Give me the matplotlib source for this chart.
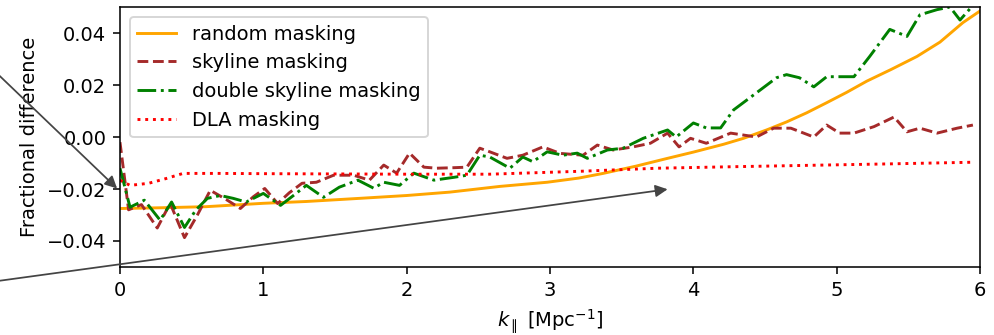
import numpy as np
import matplotlib.pyplot as plt

# fractional difference of the 1D flux power spectrum for each masking scheme
k_random = [0.0, 0.3, 0.6, 1.0, 1.3, 1.67, 2.0, 2.3, 2.65, 2.98, 3.2, 3.37, 3.6, 3.82, 4.0,
            4.21, 4.35, 4.51, 4.65, 4.79, 4.93, 5.07, 5.21, 5.38, 5.56, 5.72, 5.88, 6.0]
frac_random = [-0.0275, -0.0272, -0.0268, -0.0255, -0.0248, -0.0236, -0.0225, -0.0212, -0.0190,
               -0.0174, -0.0158, -0.0140, -0.0112, -0.0082, -0.0058, -0.0028, -0.0005, 0.0027,
               0.0058, 0.0093, 0.0132, 0.0172, 0.0215, 0.0260, 0.0310, 0.0365, 0.0440, 0.0485]

k_skyline = [0.0, 0.06, 0.15, 0.26, 0.35, 0.45, 0.54, 0.63, 0.74, 0.84, 0.93, 1.01, 1.10, 1.18,
             1.27, 1.37, 1.49, 1.63, 1.74, 1.84, 1.93, 2.02, 2.12, 2.21, 2.33, 2.42, 2.51, 2.58,
             2.70, 2.81, 2.95, 3.07, 3.23, 3.33, 3.44, 3.58, 3.70, 3.82, 3.90, 3.98, 4.09, 4.26,
             4.44, 4.56, 4.68, 4.84, 4.93, 5.02, 5.12, 5.26, 5.40, 5.49, 5.58, 5.70, 5.84, 5.95]
frac_skyline = [-0.0020, -0.0280, -0.0260, -0.0350, -0.0255, -0.0387, -0.0300, -0.0205, -0.0240,
                -0.0275, -0.0230, -0.0198, -0.0256, -0.0215, -0.0178, -0.0174, -0.0147, -0.0147,
                -0.0166, -0.0108, -0.0139, -0.0062, -0.0116, -0.0120, -0.0118, -0.0116, -0.0043,
                -0.0057, -0.0082, -0.0070, -0.0038, -0.0063, -0.0070, -0.0031, -0.0050, -0.0038,
                -0.0024, 0.0015, -0.0038, -0.0005, -0.0024, 0.0015, 0.0000, 0.0034, 0.0034,
                0.0000, 0.0046, 0.0015, 0.0015, 0.0040, 0.0077, 0.0020, 0.0034, 0.0015, 0.0034,
                0.0046]

k_double = [0.0, 0.07, 0.17, 0.28, 0.36, 0.45, 0.53, 0.61, 0.70, 0.79, 0.88, 1.00, 1.12, 1.21,
            1.30, 1.42, 1.53, 1.66, 1.77, 1.84, 1.95, 2.05, 2.19, 2.33, 2.42, 2.51, 2.58, 2.72,
            2.81, 2.88, 2.98, 3.09, 3.19, 3.26, 3.40, 3.51, 3.65, 3.82, 3.88, 4.00, 4.09, 4.19,
            4.28, 4.44, 4.58, 4.65, 4.74, 4.84, 4.93, 5.12, 5.23, 5.37, 5.49, 5.58, 5.70, 5.79,
            5.86, 5.94, 6.0]
frac_double = [-0.0120, -0.0270, -0.0243, -0.0320, -0.0250, -0.0348, -0.0280, -0.0236, -0.0225,
               -0.0236, -0.0250, -0.0217, -0.0263, -0.0225, -0.0186, -0.0232, -0.0193, -0.0166,
               -0.0197, -0.0174, -0.0186, -0.0139, -0.0166, -0.0155, -0.0147, -0.0070, -0.0077,
               -0.0120, -0.0077, -0.0095, -0.0057, -0.0070, -0.0062, -0.0082, -0.0050, -0.0043,
               -0.0005, 0.0027, 0.0000, 0.0054, 0.0035, 0.0035, 0.0104, 0.0170, 0.0228, 0.0240,
               0.0228, 0.0193, 0.0232, 0.0232, 0.0310, 0.0414, 0.0387, 0.0470, 0.0490, 0.0500,
               0.0450, 0.0500, 0.0530]

k_dla = [0.0, 0.07, 0.2, 0.32, 0.44, 0.7, 1.0, 1.5, 2.0, 2.58, 3.2, 3.75, 4.3, 4.9, 5.4, 5.95]
frac_dla = [-0.0166, -0.0186, -0.0178, -0.0160, -0.0140, -0.0140, -0.0141, -0.0142, -0.0143,
            -0.0143, -0.0132, -0.0120, -0.0114, -0.0108, -0.0103, -0.0097]

DPI = 140
fig = plt.figure(figsize=(994 / DPI, 335 / DPI), dpi=DPI)
ax = fig.add_axes([0.1207, 0.203, 0.8653, 0.776])

ax.plot(k_random, frac_random, color='orange', ls='-', label='random masking')
ax.plot(k_skyline, frac_skyline, color='brown', ls='--', label='skyline masking')
ax.plot(k_double, frac_double, color='green', ls='-.', label='double skyline masking')
ax.plot(k_dla, frac_dla, color='red', ls=':', label='DLA masking')

ax.set_xlim(0, 6)
ax.set_ylim(-0.05, 0.05)
ax.set_yticks([-0.04, -0.02, 0.0, 0.02, 0.04])
ax.set_xlabel(r'$k_{\parallel}$ [Mpc$^{-1}$]')
ax.set_ylabel('Fractional difference')
ax.legend(loc='upper left')

# arrows pointing into the plot from outside the axes
arrow = dict(arrowstyle='-|>', color='#444444', lw=0.9, shrinkA=0, shrinkB=0,
             mutation_scale=13)
ax.annotate('', xy=(-0.02, -0.0198), xytext=(-1.0, 0.032), arrowprops=arrow,
            annotation_clip=False)
ax.annotate('', xy=(3.82, -0.0201), xytext=(-1.0, -0.0565), arrowprops=arrow,
            annotation_clip=False)

fig.savefig('out.png', dpi=DPI)
